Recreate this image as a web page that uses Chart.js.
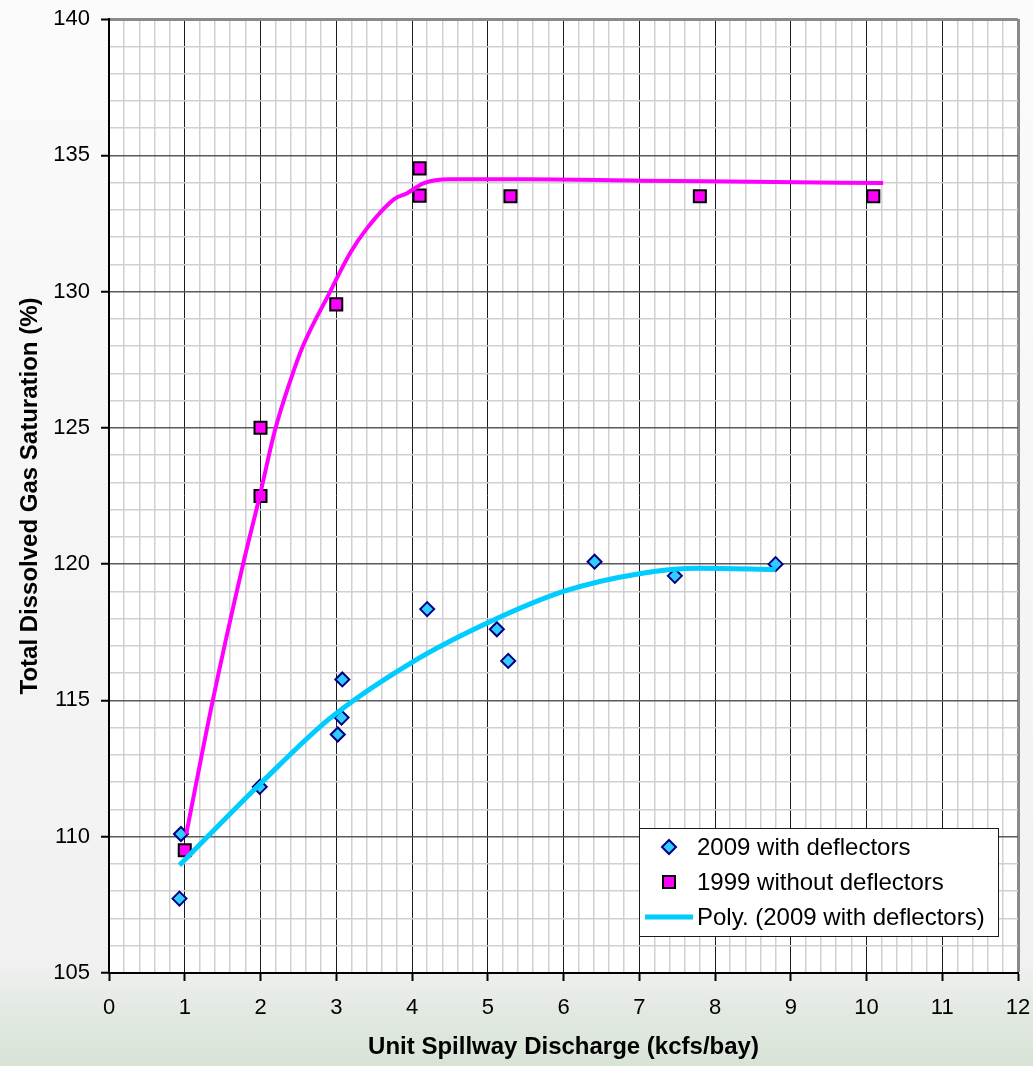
<!DOCTYPE html>
<html>
<head>
<meta charset="utf-8">
<script src="https://cdn.jsdelivr.net/npm/chart.js@4.4.1/dist/chart.umd.min.js"></script>
<style>
    html, body { margin: 0; padding: 0; }
    body {
        width: 1033px; height: 1066px; overflow: hidden;
        background: linear-gradient(to bottom, #fbfbfb 0%, #f1f1f1 90%, #e2e9e1 95%, #d8e3d6 100%);
    }
</style>
</head>
<body>
<canvas id="chart" width="1033" height="1066"></canvas>
<script>
// axis ranges
const X_MIN = 0, X_MAX = 12;
const Y_MIN = 105, Y_MAX = 140;

// 2009 with deflectors (observed points)
const with2009X = [0.95, 0.93, 1.99, 3.02, 3.07, 3.08, 4.20, 5.12, 5.27, 6.41, 7.47, 8.80];
const with2009Y = [110.1, 107.73, 111.83, 113.75, 114.37, 115.77, 118.35, 117.61, 116.45, 120.09, 119.57, 120.0];

// 1999 without deflectors (observed points)
const without1999X = [1.0, 2.0, 2.0, 3.0, 4.1, 4.1, 5.3, 7.8, 10.09];
const without1999Y = [109.5, 125.0, 122.5, 129.53, 134.52, 133.52, 133.5, 133.5, 133.5];

// hand drawn curve through the 1999 points
const curve1999X = [1.02, 1.37, 1.77, 1.99, 2.19, 2.39, 2.56, 2.92, 3.18, 3.40, 3.77, 3.93, 4.15, 4.50, 5.50, 7.00, 8.50, 10.22];
const curve1999Y = [110.1, 115.0, 120.0, 122.5, 124.9, 126.7, 128.0, 130.0, 131.4, 132.3, 133.4, 133.6, 133.97, 134.12, 134.12, 134.07, 134.03, 133.98];

// polynomial trend of the 2009 points
const polyX = [0.93, 2.0, 2.92, 4.0, 5.0, 6.0, 7.0, 7.8, 8.8];
const polyY = [108.95, 111.95, 114.35, 116.4, 117.85, 119.0, 119.65, 119.85, 119.8];

const LABEL_2009 = '2009 with deflectors';
const LABEL_1999 = '1999 without deflectors';
const LABEL_POLY = 'Poly. (2009 with deflectors)';
const LEGEND_ORDER = [LABEL_2009, LABEL_1999, LABEL_POLY];

const FONT = '"Liberation Sans", Arial, sans-serif';
const zip = (xs, ys) => xs.map((x, i) => ({ x, y: ys[i] }));
const isWhole = (v, step) => Math.abs(v / step - Math.round(v / step)) < 1e-6;

const plotBg = {
    id: 'plotBg',
    beforeDraw(chart) {
        const { ctx, chartArea: a } = chart;
        ctx.save();
        ctx.fillStyle = '#ffffff';
        ctx.fillRect(a.left, a.top, a.right - a.left, a.bottom - a.top);
        ctx.restore();
    }
};

const innerLegend = {
    id: 'innerLegend',
    afterDraw(chart) {
        const { ctx, chartArea: a } = chart;
        const w = 359, h = 108;
        const left = a.right - 20 - w, top = a.bottom - 37 - h;
        ctx.save();
        ctx.fillStyle = '#ffffff';
        ctx.fillRect(left, top, w, h);
        ctx.strokeStyle = '#1a1a1a';
        ctx.lineWidth = 1;
        ctx.strokeRect(left + 0.5, top + 0.5, w, h);
        ctx.font = '24px ' + FONT;
        ctx.textBaseline = 'middle';
        ctx.textAlign = 'left';
        LEGEND_ORDER.forEach((label, i) => {
            const ds = chart.data.datasets.find(d => d.label === label);
            const cy = top + 19 + i * 35;
            const cx = left + 30;
            if (ds.showLine) {
                ctx.strokeStyle = ds.borderColor;
                ctx.lineWidth = ds.borderWidth;
                ctx.beginPath();
                ctx.moveTo(left + 6, cy);
                ctx.lineTo(left + 54, cy);
                ctx.stroke();
            } else {
                ctx.fillStyle = ds.pointBackgroundColor;
                ctx.strokeStyle = ds.pointBorderColor;
                ctx.lineWidth = ds.pointBorderWidth;
                ctx.beginPath();
                Chart.helpers.drawPoint(ctx, {
                    pointStyle: ds.pointStyle,
                    radius: ds.pointRadius,
                    rotation: 0,
                    borderWidth: ds.pointBorderWidth
                }, cx, cy);
            }
            ctx.fillStyle = '#000000';
            ctx.fillText(label, left + 58, cy + 1);
        });
        ctx.restore();
    }
};

new Chart(document.getElementById('chart'), {
    type: 'scatter',
    data: {
        datasets: [
            {
                label: LABEL_POLY,
                data: zip(polyX, polyY),
                showLine: true,
                borderColor: '#00ccff',
                borderWidth: 5,
                pointRadius: 0,
                cubicInterpolationMode: 'monotone',
                order: 0,
            },
            {
                label: 'curve1999',
                data: zip(curve1999X, curve1999Y),
                showLine: true,
                borderColor: '#ff00ff',
                borderWidth: 4,
                pointRadius: 0,
                cubicInterpolationMode: 'monotone',
                order: 0,
            },
            {
                label: LABEL_2009,
                data: zip(with2009X, with2009Y),
                pointStyle: 'rectRot',
                pointRadius: 7,
                pointBackgroundColor: '#33ccff',
                pointBorderColor: '#000080',
                pointBorderWidth: 2,
                order: 1,
            },
            {
                label: LABEL_1999,
                data: zip(without1999X, without1999Y),
                pointStyle: 'rect',
                pointRadius: 8.5,
                pointBackgroundColor: '#ff00ff',
                pointBorderColor: '#000000',
                pointBorderWidth: 2,
                order: 1,
            },
        ]
    },
    options: {
        responsive: false,
        animation: false,
        devicePixelRatio: 1,
        layout: { padding: { top: 19, right: 15, left: 0, bottom: 0 } },
        plugins: {
            legend: { display: false },
            tooltip: { enabled: false },
        },
        scales: {
            x: {
                type: 'linear',
                min: X_MIN,
                max: X_MAX,
                afterFit: (s) => { s.height = 93; s.paddingLeft = 0; s.paddingRight = 0; },
                ticks: {
                    stepSize: 0.2,
                    autoSkip: false,
                    maxRotation: 0,
                    minRotation: 0,
                    padding: 14,
                    color: '#000000',
                    font: { family: FONT, size: 22 },
                    callback: (v) => isWhole(v, 1) ? String(Math.round(v)) : '',
                },
                grid: {
                    color: (c) => {
                        const v = c.tick.value;
                        if (isWhole(v, 12)) return v > 0 ? '#8a8a8a' : 'rgba(0,0,0,0)';
                        return isWhole(v, 1) ? '#1a1a1a' : '#d0d0d0';
                    },
                    lineWidth: (c) => {
                        const v = c.tick.value;
                        if (v > 11.9) return 3;
                        return isWhole(v, 1) ? 1 : 1.5;
                    },
                    tickColor: (c) => isWhole(c.tick.value, 1) ? '#000000' : 'rgba(0,0,0,0)',
                    tickLength: 8,
                    tickWidth: 2,
                },
                border: { color: '#000000', width: 2 },
                title: {
                    display: true,
                    text: 'Unit Spillway Discharge (kcfs/bay)',
                    color: '#000000',
                    font: { family: FONT, size: 24, weight: 'bold' },
                    padding: { top: 0, bottom: 4 },
                },
            },
            y: {
                type: 'linear',
                min: Y_MIN,
                max: Y_MAX,
                afterFit: (s) => { s.width = 109; s.paddingTop = 0; s.paddingBottom = 0; },
                ticks: {
                    stepSize: 1,
                    autoSkip: false,
                    padding: 11,
                    color: '#000000',
                    font: { family: FONT, size: 22 },
                    callback: (v) => isWhole(v, 5) ? String(v) : '',
                },
                grid: {
                    color: (c) => {
                        const v = c.tick.value;
                        if (v === Y_MIN) return 'rgba(0,0,0,0)';
                        if (v === Y_MAX) return '#8a8a8a';
                        return isWhole(v, 5) ? '#5a5a5a' : '#d0d0d0';
                    },
                    lineWidth: (c) => (c.tick.value === Y_MAX ? 3 : 1.5),
                    tickColor: (c) => isWhole(c.tick.value, 5) ? '#000000' : 'rgba(0,0,0,0)',
                    tickLength: 8,
                    tickWidth: 2,
                },
                border: { color: '#000000', width: 2 },
                title: {
                    display: true,
                    text: 'Total Dissolved Gas Saturation (%)',
                    color: '#000000',
                    font: { family: FONT, size: 24, weight: 'bold' },
                    padding: { top: 16, bottom: 0 },
                },
            },
        },
    },
    plugins: [plotBg, innerLegend],
});
</script>
</body>
</html>
